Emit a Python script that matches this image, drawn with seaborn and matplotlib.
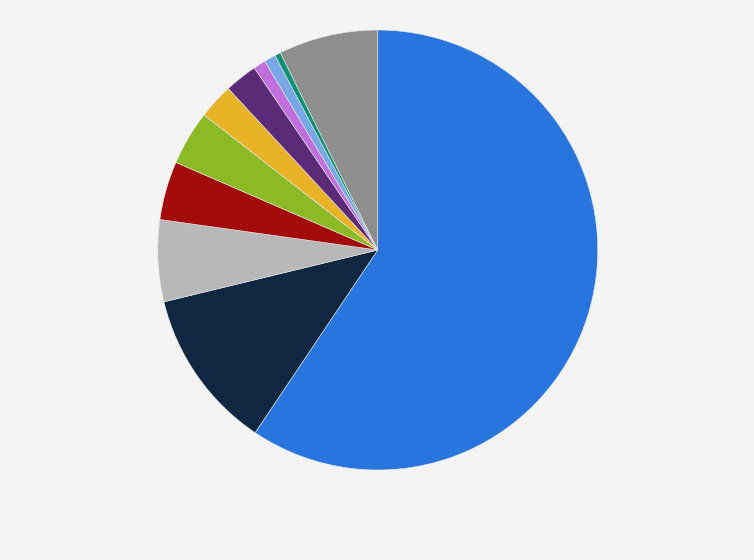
import matplotlib
matplotlib.use("Agg")
import matplotlib.pyplot as plt
import seaborn as sns

categories = ["A", "B", "C", "D", "E", "F", "G", "H", "I", "J", "Other"]
shares = [59.4, 11.8, 6.0, 4.3, 4.0, 2.6, 2.4, 0.9, 0.85, 0.43, 7.3]
colors = ["#2876dd", "#0f2740", "#b8b8b8", "#a30a0a", "#8bba26", "#e8b327",
          "#5c2a76", "#c06fdc", "#79a8e6", "#0a9073", "#8e8e8e"]

sns.set_theme(style="white")
bg = "#f4f4f4"
fig = plt.figure(figsize=(7.54, 5.6), dpi=100, facecolor=bg)
ax = fig.add_axes([0.2092, 0.1607, 0.5836, 0.7857])
ax.set_facecolor(bg)
palette = sns.color_palette(colors)
ax.pie(shares, colors=palette, startangle=90, counterclock=False, radius=1,
       wedgeprops=dict(edgecolor="#e8e8e8", linewidth=0.4))
ax.set_xlim(-1, 1)
ax.set_ylim(-1, 1)
ax.set_aspect("equal")
ax.axis("off")
fig.savefig("out.png", dpi=100, facecolor=bg)
